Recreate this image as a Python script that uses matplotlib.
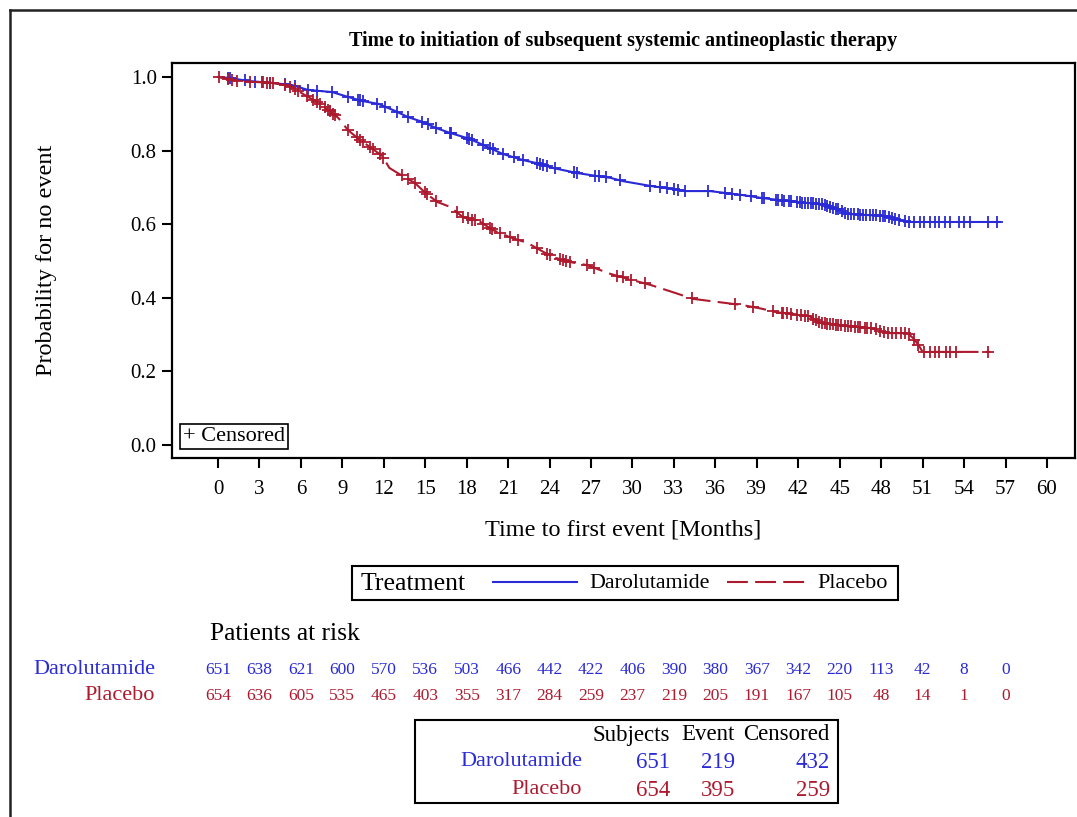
import numpy as np
import matplotlib
matplotlib.use("Agg")
import matplotlib.pyplot as plt
import matplotlib.transforms as mtransforms
from matplotlib.patches import Rectangle
from matplotlib.lines import Line2D

plt.rcParams['font.family'] = ['Liberation Serif', 'DejaVu Serif']

# couleurs des deux bras
BLUE = '#2a2ad6'
RED = '#ad1a2e'

# courbes de Kaplan-Meier (mois, probabilite)
daro_t = [0, 0.9, 2.2, 3.9, 5.35, 6.5, 8.25, 9.4, 10.4, 11.6, 12.8, 13.75, 14.8, 15.8,
          16.8, 18.2, 19.5, 20.6, 22.1, 23.3, 24.2, 26.0, 27.4, 28.4, 29.3, 31.3, 33.9,
          35.6, 38.0, 39.4, 41.9, 43.6, 44.1, 45.0, 45.5, 48.4, 49.1, 49.9, 56.6]
daro_s = [1.0, 0.997, 0.989, 0.984, 0.978, 0.965, 0.959, 0.946, 0.935, 0.927, 0.908, 0.891,
          0.878, 0.861, 0.848, 0.832, 0.810, 0.791, 0.774, 0.764, 0.753, 0.739, 0.731, 0.726,
          0.717, 0.704, 0.690, 0.690, 0.679, 0.671, 0.660, 0.655, 0.649, 0.639, 0.628, 0.622,
          0.614, 0.606, 0.606]

plac_t = [0, 1.45, 3.9, 5.1, 5.8, 6.5, 7.2, 8.0, 8.7, 9.4, 10.1, 11.1, 11.9, 12.4, 13.0,
          14.25, 15.1, 15.9, 16.8, 17.7, 19.0, 19.9, 21.1, 22.4, 23.3, 24.2, 25.5, 26.7, 28.4,
          29.8, 31.3, 32.7, 34.4, 36.1, 38.0, 39.4, 40.4, 42.8, 43.6, 45.5, 47.2, 48.6, 49.9,
          50.3, 50.7, 51.0, 55.9]
plac_s = [1.0, 0.989, 0.984, 0.976, 0.962, 0.946, 0.932, 0.910, 0.889, 0.856, 0.834, 0.807,
          0.785, 0.753, 0.739, 0.712, 0.682, 0.660, 0.647, 0.620, 0.606, 0.584, 0.565, 0.549,
          0.530, 0.511, 0.497, 0.489, 0.465, 0.450, 0.435, 0.418, 0.397, 0.389, 0.380, 0.370,
          0.361, 0.350, 0.332, 0.323, 0.318, 0.304, 0.304, 0.291, 0.272, 0.253, 0.253]

# temps des censures (+)
daro_cens = [0.75, 0.87, 1.95, 2.68, 3.16, 3.76, 4.85, 5.57, 6.54, 7.14, 8.23, 9.43, 10.15,
             10.27, 10.52, 11.48, 12.08, 12.93, 13.77, 14.74, 15.2, 15.8, 16.8, 16.9, 18.0,
             18.2, 18.4, 19.2, 19.7, 19.9, 20.6, 21.4, 22.1, 23.1, 23.3, 23.5, 23.8, 24.4,
             25.8, 25.95, 27.3, 27.6, 28.1, 29.1, 31.3, 32.0, 32.5, 33.0, 33.3, 33.8, 35.5,
             36.7, 37.2, 37.8, 38.6, 39.4, 39.5, 40.4, 40.55, 40.8, 41.0, 41.3, 41.5,
             41.9, 42.1, 42.3, 42.5, 42.7, 42.9, 43.1, 43.3, 43.5, 43.7, 43.9, 44.1, 44.3,
             44.5, 44.7, 44.9, 45.2, 45.4, 45.6, 45.8, 46.0, 46.3, 46.5, 46.7, 46.9, 47.2,
             47.4, 47.6, 47.9, 48.1, 48.3, 48.6, 48.8, 49.0, 49.3, 49.7, 50.0, 50.4, 50.8,
             51.1, 51.5, 51.9, 52.2, 52.6, 53.0, 53.6, 54.0, 54.4, 55.7, 56.4]
plac_cens = [0.05, 0.75, 0.99, 1.35, 2.32, 3.28, 3.52, 3.76, 4.0, 4.85, 5.21, 5.57, 5.81,
             6.42, 6.9, 7.14, 7.38, 7.74, 7.98, 8.1, 8.35, 8.47, 9.43, 10.03, 10.27, 10.52,
             11.0, 11.24, 11.72, 11.96, 13.3, 13.77, 14.26, 14.98, 15.1, 15.8, 17.3, 17.75,
             18.1, 18.4, 18.6, 19.2, 19.7, 19.8, 20.4, 21.1, 21.7, 23.06, 23.8, 24.0, 24.75,
             24.99, 25.2, 25.47, 26.7, 27.2, 28.85, 29.3, 29.9, 30.9, 34.3, 37.4, 38.7, 40.2,
             40.8, 40.9, 41.15, 41.5, 41.9, 42.2, 42.5, 42.7, 43.1, 43.3, 43.5, 43.7, 43.9,
             44.1, 44.3, 44.5, 44.7, 44.9, 45.1, 45.4, 45.6, 45.8, 46.1, 46.3, 46.5, 46.8,
             47.0, 47.3, 47.6, 47.9, 48.2, 48.5, 48.8, 49.1, 49.4, 49.7, 50.0, 50.4, 50.7,
             51.1, 51.5, 51.9, 52.2, 52.7, 52.96, 53.4, 55.7]

# patients a risque
risk_times = list(range(0, 58, 3))
daro_risk = [651, 638, 621, 600, 570, 536, 503, 466, 442, 422, 406, 390, 380, 367, 342, 220, 113, 42, 8, 0]
plac_risk = [654, 636, 605, 535, 465, 403, 355, 317, 284, 259, 237, 219, 205, 191, 167, 105, 48, 14, 1, 0]

# tableau resume
groups = ['Darolutamide', 'Placebo']
subjects = [651, 654]
events = [219, 395]
censored = [432, 259]

W, H = 1077, 817
fig = plt.figure(figsize=(W / 100, H / 100), dpi=100)

def fx(px):
    return px / W

def fy(py):
    return 1 - py / H

ax = fig.add_axes([fx(172), fy(458), fx(1075) - fx(172), fy(63) - fy(458)])

ax.plot(daro_t, daro_s, color=BLUE, lw=1.5)
ax.plot(daro_cens, np.interp(daro_cens, daro_t, daro_s), ls='none', marker='+',
        ms=8, mew=1.3, color=BLUE)
ax.plot(plac_t, plac_s, color=RED, lw=1.5, dashes=(10, 3.5))
ax.plot(plac_cens, np.interp(plac_cens, plac_t, plac_s), ls='none', marker='+',
        ms=8, mew=1.3, color=RED)

ax.set_xlim(-3.33, 62.03)
ax.set_ylim(-0.0353, 1.038)
ax.set_xticks(range(0, 61, 3))
ax.set_yticks([0.0, 0.2, 0.4, 0.6, 0.8, 1.0])
ax.set_yticklabels(['0.0', '0.2', '0.4', '0.6', '0.8', '1.0'])
ax.tick_params(axis='both', labelsize=15, width=1.5, length=7, direction='out')
ax.tick_params(axis='x', pad=9)
ax.tick_params(axis='y', pad=4)
for sp in ax.spines.values():
    sp.set_linewidth(1.6)

ax.set_title('Time to initiation of subsequent systemic antineoplastic therapy',
             fontsize=14.5, fontweight='bold', pad=12)
ax.set_ylabel('Probability for no event', fontsize=17.5)
ax.yaxis.set_label_coords(-0.127, 0.5)
ax.set_xlabel('Time to first event [Months]', fontsize=17.5)
ax.xaxis.set_label_coords(0.5, -0.155)

ax.text(0.012, 0.03, '+ Censored', transform=ax.transAxes, fontsize=16,
        va='bottom', ha='left',
        bbox=dict(boxstyle='square,pad=0.15', fc='white', ec='black', lw=1.2))

# legende
fig.add_artist(Rectangle((fx(352), fy(600)), fx(898) - fx(352), fy(566) - fy(600),
                         transform=fig.transFigure, fill=False, ec='black', lw=1.5))
fig.text(fx(361), fy(584), 'Treatment', fontsize=18.5, va='center', ha='left')
fig.add_artist(Line2D([fx(493), fx(577)], [fy(582), fy(582)], color=BLUE, lw=1.5,
                      transform=fig.transFigure))
fig.text(fx(589), fy(583), 'Darolutamide', fontsize=15.8, va='center', ha='left')
fig.add_artist(Line2D([fx(727), fx(805)], [fy(582), fy(582)], color=RED, lw=1.5,
                      dashes=(10, 3.5), transform=fig.transFigure))
fig.text(fx(817), fy(583), 'Placebo', fontsize=16, va='center', ha='left')

# patients a risque
fig.text(fx(210), fy(634), 'Patients at risk', fontsize=18.4, va='center', ha='left')
fig.text(fx(155), fy(670), 'Darolutamide', fontsize=16, color=BLUE, va='center', ha='right')
fig.text(fx(155), fy(696), 'Placebo', fontsize=16, color=RED, va='center', ha='right')
trans = mtransforms.blended_transform_factory(ax.transData, fig.transFigure)
for t, a, b in zip(risk_times, daro_risk, plac_risk):
    fig.text(t, fy(670), str(a), transform=trans, fontsize=12.5, color=BLUE,
             va='center', ha='center')
    fig.text(t, fy(696), str(b), transform=trans, fontsize=12.5, color=RED,
             va='center', ha='center')

# tableau resume
fig.add_artist(Rectangle((fx(415), fy(803)), fx(838) - fx(415), fy(720) - fy(803),
                         transform=fig.transFigure, fill=False, ec='black', lw=1.5))
col_x = [670, 735, 830]
for x, h in zip(col_x, ['Subjects', 'Event', 'Censored']):
    fig.text(fx(x), fy(735), h, fontsize=16.5, va='center', ha='right')
row_y = [762, 790]
for i, (g, c) in enumerate(zip(groups, [BLUE, RED])):
    fig.text(fx(582), fy(row_y[i]), g, fontsize=16, color=c, va='center', ha='right')
    for x, v in zip(col_x, [subjects[i], events[i], censored[i]]):
        fig.text(fx(x), fy(row_y[i]), str(v), fontsize=16.5, color=c, va='center', ha='right')

# cadre exterieur
fig.add_artist(Line2D([fx(10), fx(1077)], [fy(10), fy(10)], color='#222222', lw=1.8,
                      transform=fig.transFigure))
fig.add_artist(Line2D([fx(10), fx(10)], [fy(10), fy(817)], color='#222222', lw=1.8,
                      transform=fig.transFigure))

fig.savefig('out.png', dpi=100)
